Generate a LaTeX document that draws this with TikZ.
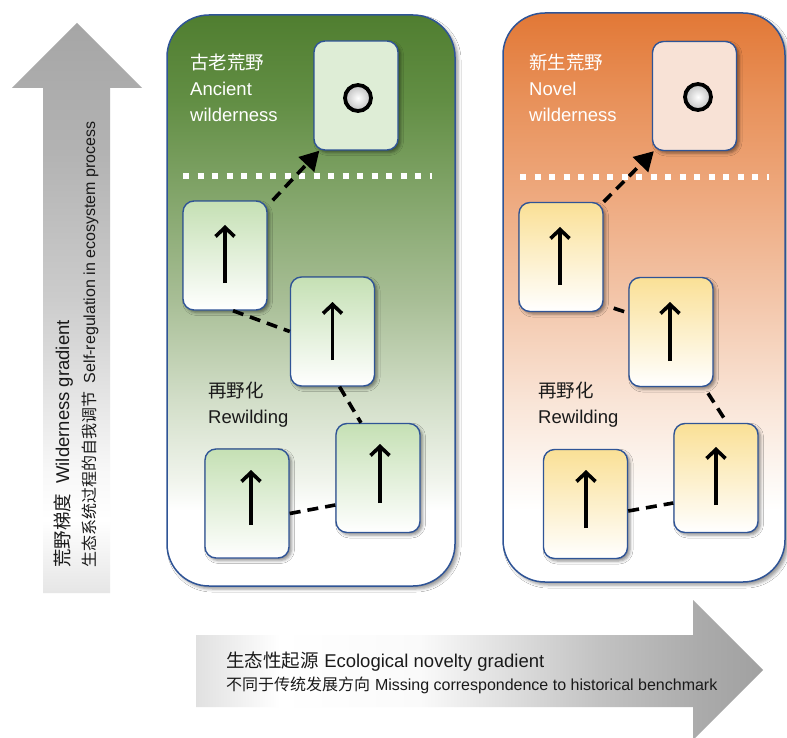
\documentclass[tikz,border=0pt]{standalone}
\usepackage{fontspec}
\setmainfont{Liberation Sans}
\newfontfamily\cjk{Noto Sans CJK SC}
\usetikzlibrary{arrows.meta,shadows.blur}

\definecolor{bordblue}{RGB}{47,84,150}
\definecolor{gp0}{RGB}{80,126,48}
\definecolor{gp1}{RGB}{98,142,68}
\definecolor{gp2}{RGB}{132,166,108}
\definecolor{gp3}{RGB}{168,190,150}
\definecolor{gp4}{RGB}{210,222,200}
\definecolor{gp5}{RGB}{240,244,236}
\definecolor{op0}{RGB}{226,120,54}
\definecolor{op1}{RGB}{232,145,90}
\definecolor{op2}{RGB}{238,170,128}
\definecolor{op3}{RGB}{243,198,170}
\definecolor{op4}{RGB}{249,228,214}
\definecolor{op5}{RGB}{253,248,244}
\definecolor{gbtop}{RGB}{197,224,180}
\definecolor{obtop}{RGB}{250,224,150}
\definecolor{gtopc}{RGB}{222,237,214}
\definecolor{otopc}{RGB}{248,226,214}
\definecolor{txtdark}{RGB}{26,26,26}

\pgfdeclareverticalshading{greenpanel}{100bp}{color(0bp)=(white); color(31.6bp)=(white); color(34.3bp)=(gp5); color(41.3bp)=(gp4); color(50bp)=(gp3); color(58.8bp)=(gp2); color(67.5bp)=(gp1); color(75bp)=(gp0); color(100bp)=(gp0)}
\pgfdeclareverticalshading{orangepanel}{100bp}{color(0bp)=(white); color(31.3bp)=(white); color(34bp)=(op5); color(41bp)=(op4); color(49.8bp)=(op3); color(58.6bp)=(op2); color(67.4bp)=(op1); color(75bp)=(op0); color(100bp)=(op0)}
\pgfdeclareverticalshading{varrowshade}{100bp}{color(0bp)=(black!10); color(25bp)=(black!10); color(31.4bp)=(white); color(35.8bp)=(black!3); color(50.7bp)=(black!20); color(63.9bp)=(black!30); color(75bp)=(black!35); color(100bp)=(black!35)}
\pgfdeclarehorizontalshading{harrowshade}{100bp}{color(0bp)=(black!12); color(25bp)=(black!12); color(32.4bp)=(white); color(44.75bp)=(black!2); color(60.6bp)=(black!24); color(69.4bp)=(black!33); color(75bp)=(black!37); color(100bp)=(black!37)}

\tikzset{
  box/.style={rounded corners=11pt, draw=bordblue, line width=1.4pt,
    minimum width=84pt, minimum height=109pt, inner sep=0pt,
    blur shadow={shadow xshift=2.5pt, shadow yshift=-2.5pt, shadow blur radius=3pt, shadow opacity=45}},
  gbox/.style={box, top color=gbtop, bottom color=white},
  obox/.style={box, top color=obtop, bottom color=white},
  gtopbox/.style={box, fill=gtopc},
  otopbox/.style={box, fill=otopc},
  panel/.style={rounded corners=42pt, draw=bordblue, line width=1.5pt, inner sep=0pt, shade,
    blur shadow={shadow xshift=3pt, shadow yshift=-3pt, shadow blur radius=3pt, shadow opacity=40}},
  ring/.style={circle, draw=black, line width=3.8pt, minimum size=26pt, inner sep=0pt,
    inner color=white, outer color=black!25},
  uparr/.style={line width=3.6pt, -{Straight Barb[length=9pt,width=19pt]}},
  dconn/.style={line width=3.6pt, dash pattern=on 11pt off 7pt},
  darr/.style={line width=3.6pt, dash pattern=on 11pt off 7pt, -{Triangle[length=19pt,width=21pt]}},
  dotline/.style={white, line width=6pt, dash pattern=on 6pt off 8.5pt},
  wtxt/.style={text=white, inner sep=0pt, anchor=base west, font=\fontsize{18.5}{20}\selectfont},
  btxt/.style={text=txtdark, inner sep=0pt, anchor=base west, font=\fontsize{18.5}{20}\selectfont},
  stxt/.style={text=txtdark, inner sep=0pt, anchor=base west, font=\fontsize{16}{18}\selectfont},
}

\begin{document}
\begin{tikzpicture}[x=1pt,y=-1pt]
\clip (0,0) rectangle (787,738);
\fill[white] (0,0) rectangle (787,738);

% gradient arrows
\shade[shading=varrowshade] (43,593) -- (43,88) -- (12,88) -- (77,23) -- (142,88) -- (110,88) -- (110,593) -- cycle;
\shade[shading=harrowshade] (196,635) -- (693,635) -- (693,600) -- (763,670) -- (693,740) -- (693,707) -- (196,707) -- cycle;

\node[btxt, rotate=90] (wg) at (69,568) {{\cjk 荒野梯度}\hspace{0.55em}Wilderness gradient};
\node[stxt, rotate=90] (sr) at (95,568) {{\cjk 生态系统过程的自我调节}\hspace{0.55em}Self-regulation in ecosystem process};
\node[btxt] (eg) at (226,667) {{\cjk 生态性起源}\hspace{0.3em}Ecological novelty gradient};
\node[stxt] (mc) at (226,690) {{\cjk 不同于传统发展方向}\hspace{0.3em}Missing correspondence to historical benchmark};

% panels
\node[panel, shading=greenpanel, minimum width=288pt, minimum height=571pt] (gpanel) at (311,300.5) {};
\node[panel, shading=orangepanel, minimum width=282pt, minimum height=569pt] (opanel) at (644,297.5) {};

% dotted thresholds
\draw[dotline] (183,176) -- (432,176);
\draw[dotline] (520,177) -- (769,177);

% panel labels
\node[wtxt] (gt1) at (190,70) {\cjk 古老荒野};
\node[wtxt] (gt2) at (190,96) {Ancient};
\node[wtxt] (gt3) at (190,122) {wilderness};
\node[wtxt] (ot1) at (529,70) {\cjk 新生荒野};
\node[wtxt] (ot2) at (529,96) {Novel};
\node[wtxt] (ot3) at (529,122) {wilderness};
\node[btxt] (gr1) at (208,397) {\cjk 再野化};
\node[btxt] (gr2) at (208,423) {Rewilding};
\node[btxt] (or1) at (538,397) {\cjk 再野化};
\node[btxt] (or2) at (538,423) {Rewilding};

% box centres
\coordinate (g1c) at (225,255.5);
\coordinate (g2c) at (332.5,331.5);
\coordinate (g3c) at (378,478);
\coordinate (g4c) at (247,503.5);
\coordinate (o1c) at (561,257);
\coordinate (o2c) at (671,332);
\coordinate (o3c) at (716,478);
\coordinate (o4c) at (585.5,504);

% boxes
\node[gtopbox] (gt) at (356,95.5) {};
\node[gbox] (g1) at (g1c) {};
\node[gbox] (g2) at (g2c) {};
\node[gbox] (g3) at (g3c) {};
\node[gbox] (g4) at (g4c) {};
\node[otopbox] (ot) at (694.5,96) {};
\node[obox] (o1) at (o1c) {};
\node[obox] (o2) at (o2c) {};
\node[obox] (o3) at (o3c) {};
\node[obox] (o4) at (o4c) {};

% connectors green
\draw[dconn] ([xshift=8pt]g1.south) -- (g2.west);
\draw[dconn] ([xshift=7pt]g2.south) -- ([xshift=-17pt]g3.north);
\draw[dconn] ([yshift=-10pt]g4.east) -- ([yshift=-27pt]g3.west);
\draw[darr] ([xshift=5pt]g1.north east) -- ([xshift=6pt]gt.south west);
% connectors orange
\draw[dconn] ([xshift=10pt,yshift=4pt]o1.south east) -- ([yshift=19pt]o2.west);
\draw[dconn] ([xshift=37pt,yshift=-6pt]o2.south) -- ([xshift=11pt]o3.north);
\draw[dconn] ([yshift=-7pt]o4.east) -- ([yshift=-25pt]o3.west);
\draw[darr] (o1.north east) -- ([xshift=2pt]ot.south west);

% rings
\node[ring] (gring) at ([xshift=2pt,yshift=-2.5pt]gt.center) {};
\node[ring] (oring) at ([xshift=3.5pt,yshift=-1pt]ot.center) {};

% up arrows
\draw[uparr] ([yshift=-27.5pt]g1.center) -- ([yshift=30.5pt]g1.center);
\draw[uparr] ([yshift=-28.5pt]g2.center) -- ([yshift=29.5pt]g2.center);
\draw[uparr] ([xshift=2pt,yshift=-25pt]g3.center) -- ([xshift=2pt,yshift=34pt]g3.center);
\draw[uparr] ([xshift=4pt,yshift=-21.5pt]g4.center) -- ([xshift=4pt,yshift=33.5pt]g4.center);
\draw[uparr] ([xshift=-1pt,yshift=-28pt]o1.center) -- ([xshift=-1pt,yshift=30pt]o1.center);
\draw[uparr] ([xshift=-1pt,yshift=-29pt]o2.center) -- ([xshift=-1pt,yshift=30pt]o2.center);
\draw[uparr] ([yshift=-27pt]o3.center) -- ([yshift=31pt]o3.center);
\draw[uparr] ([xshift=0.5pt,yshift=-24pt]o4.center) -- ([xshift=0.5pt,yshift=34pt]o4.center);
\end{tikzpicture}
\end{document}
